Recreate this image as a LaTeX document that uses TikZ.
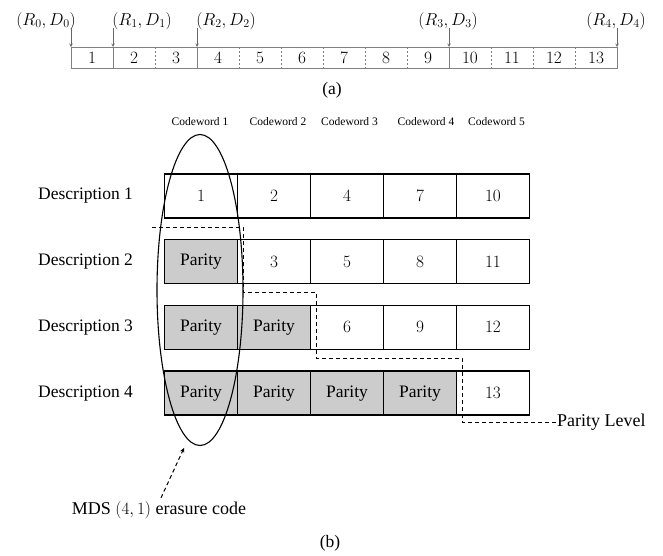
\documentclass[tikz,border=0pt]{standalone}
\usepackage{fontspec}
\setmainfont{Liberation Serif}
\usetikzlibrary{shapes.geometric, arrows, positioning}
\tikzstyle{slot} = [rectangle, minimum width=42pt, minimum height=21pt, inner sep=0pt, outer sep=0pt, font=\fontsize{17.5}{20}\selectfont]
\tikzstyle{strip} = [draw=black!50, line width=0.6pt]
\tikzstyle{marker} = [black!60, line width=0.6pt, ->, >=stealth]
\tikzstyle{rate} = [font=\fontsize{18}{21}\selectfont]
\tikzstyle{cell} = [rectangle, minimum width=73pt, minimum height=44pt, inner sep=0pt, outer sep=0pt, text centered, draw=black, line width=1.3pt, font=\fontsize{18}{20}\selectfont]
\tikzstyle{parity} = [cell, fill=black!20, font=\fontsize{17.5}{20}\selectfont]
\tikzstyle{desc} = [font=\fontsize{17.5}{20}\selectfont]
\tikzstyle{codeword} = [font=\fontsize{11.5}{14}\selectfont]
\tikzstyle{level} = [line width=1pt, dash pattern=on 4pt off 3pt]
\tikzstyle{arrow} = [line width=1pt, dash pattern=on 4pt off 3pt, ->, >=stealth]

\begin{document}
\begin{tikzpicture}[x=1pt, y=-1pt, node distance=0pt]
\useasboundingbox (0,0) rectangle (663,555);

% (a) the layers
\node [slot] (s1) at (92,57.5) {$1$};
\foreach \i [count=\j from 2] in {1,...,12}
  \node [slot, right=0pt of s\i] (s\j) {$\j$};
\draw [strip] (s1.north west) rectangle (s13.south east);
\foreach \i in {3,5,6,7,8,9,11,12,13}
  \draw [strip, dash pattern=on 2pt off 2pt] (s\i.north west) -- (s\i.south west);
\foreach \i in {2,4,10}
  \draw [strip] (s\i.north west) -- (s\i.south west);

\node [rate] (r0) at (46,21) {$(R_0,D_0)$};
\node [rate] (r1) at (142,21) {$(R_1,D_1)$};
\node [rate] (r2) at (226,21) {$(R_2,D_2)$};
\node [rate] (r3) at (448,21) {$(R_3,D_3)$};
\node [rate] (r4) at (616,21) {$(R_4,D_4)$};
\coordinate (t0) at ([yshift=19pt]s1.north west);
\coordinate (t1) at ([yshift=19pt]s2.north west);
\coordinate (t2) at ([yshift=19pt]s4.north west);
\coordinate (t3) at ([yshift=19pt]s10.north west);
\coordinate (t4) at ([yshift=19pt]s13.north east);
\draw [marker] (t0) -- (s1.north west);
\draw [marker] (t1) -- (s2.north west);
\draw [marker] (t2) -- (s4.north west);
\draw [marker] (t3) -- (s10.north west);
\draw [marker] (t4) -- (s13.north east);

\node [desc] (capa) at (332,90) {(a)};

% (b) the descriptions
\node [codeword] (cw1) at (200,122) {Codeword 1};
\node [codeword] (cw2) at (278,122) {Codeword 2};
\node [codeword] (cw3) at (349.5,122) {Codeword 3};
\node [codeword] (cw4) at (426,122) {Codeword 4};
\node [codeword] (cw5) at (496.5,122) {Codeword 5};

\node [cell] (d1c1) at (201,196) {$1$};
\node [cell, right=0pt of d1c1] (d1c2) {$2$};
\node [cell, right=0pt of d1c2] (d1c3) {$4$};
\node [cell, right=0pt of d1c3] (d1c4) {$7$};
\node [cell, right=0pt of d1c4] (d1c5) {$10$};

\node [parity, below=21.7pt of d1c1] (d2c1) {Parity};
\node [cell, right=0pt of d2c1] (d2c2) {$3$};
\node [cell, right=0pt of d2c2] (d2c3) {$5$};
\node [cell, right=0pt of d2c3] (d2c4) {$8$};
\node [cell, right=0pt of d2c4] (d2c5) {$11$};

\node [parity, below=21.7pt of d2c1] (d3c1) {Parity};
\node [parity, right=0pt of d3c1] (d3c2) {Parity};
\node [cell, right=0pt of d3c2] (d3c3) {$6$};
\node [cell, right=0pt of d3c3] (d3c4) {$9$};
\node [cell, right=0pt of d3c4] (d3c5) {$12$};

\node [parity, below=21.7pt of d3c1] (d4c1) {Parity};
\node [parity, right=0pt of d4c1] (d4c2) {Parity};
\node [parity, right=0pt of d4c2] (d4c3) {Parity};
\node [parity, right=0pt of d4c3] (d4c4) {Parity};
\node [cell, right=0pt of d4c4] (d4c5) {$13$};

\node [desc, left=28pt of d1c1] (desc1) {Description 1};
\node [desc, left=28pt of d2c1] (desc2) {Description 2};
\node [desc, left=28pt of d3c1] (desc3) {Description 3};
\node [desc, left=28pt of d4c1] (desc4) {Description 4};

% erasure code
\node [draw, ellipse, line width=1.1pt, minimum width=86pt, minimum height=311pt, inner sep=0pt] (mds) at (200,290) {};
\node [desc, font=\fontsize{18}{20}\selectfont] (code) at (159,510) {MDS $(4,1)$ erasure code};
\coordinate (tip) at (184,448);
\draw [arrow] ([xshift=2pt]code.north) -- (tip);

% parity level
\node [desc, font=\fontsize{18}{20}\selectfont, anchor=west, inner sep=0pt] (plevel) at (557,422) {Parity Level};
\coordinate (l0) at (152,227);
\coordinate (l1) at (243,227);
\coordinate (l2) at (243,292);
\coordinate (l3) at (316,292);
\coordinate (l4) at (316,358);
\coordinate (l5) at (462,358);
\coordinate (l6) at (462,422);
\draw [level] (l0) -- (l1) -- (l2) -- (l3) -- (l4) -- (l5) -- (l6) -- (plevel.west);

\node [desc] (capb) at (330,543) {(b)};

\end{tikzpicture}
\end{document}
